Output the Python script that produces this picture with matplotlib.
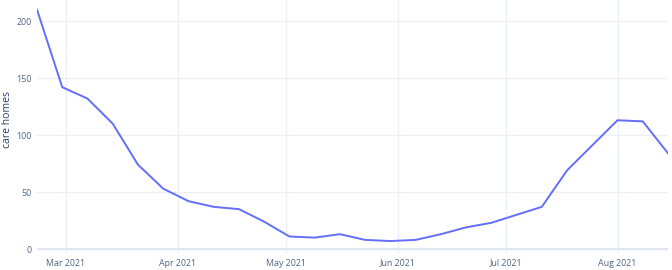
import numpy as np
import pandas as pd
import matplotlib.pyplot as plt
import matplotlib.dates as mdates

# weekly counts
dates = pd.date_range("2021-02-21", periods=26, freq="7D")
care_homes = [210, 142, 132, 110, 74, 53, 42, 37, 35, 24, 11, 10, 13, 8,
              7, 8, 13, 19, 23, 30, 37, 69, 91, 113, 112, 84]

plt.rcParams['font.family'] = ['Open Sans', 'DejaVu Sans']

fig = plt.figure(figsize=(6.72, 2.70), dpi=100)
ax = fig.add_axes([37 / 672, 17 / 270, 631 / 672, 253 / 270])

ax.plot(dates, care_homes, color="#636efa", lw=1.4, zorder=3)

ax.set_xlim(dates[0], dates[-1])
ax.set_ylim(-3.5, 218.5)
ax.set_yticks([0, 50, 100, 150, 200])
ax.xaxis.set_major_locator(mdates.MonthLocator())
ax.xaxis.set_major_formatter(mdates.DateFormatter("%b %Y"))

ax.grid(True, color="#ebf0f8", lw=1)
ax.axhline(0, color="#e0e6ef", lw=1.6, zorder=2)
for s in ax.spines.values():
    s.set_visible(False)
ax.tick_params(length=0, labelsize=6.4, colors="#506784", pad=4)

# y title sits at the far left edge
fig.text(1.5 / 672, 1 - 120 / 270, "care homes", rotation=90, ha="left", va="center",
         fontsize=7.5, color="#2a3f5f")

fig.savefig("out.png", dpi=100)
